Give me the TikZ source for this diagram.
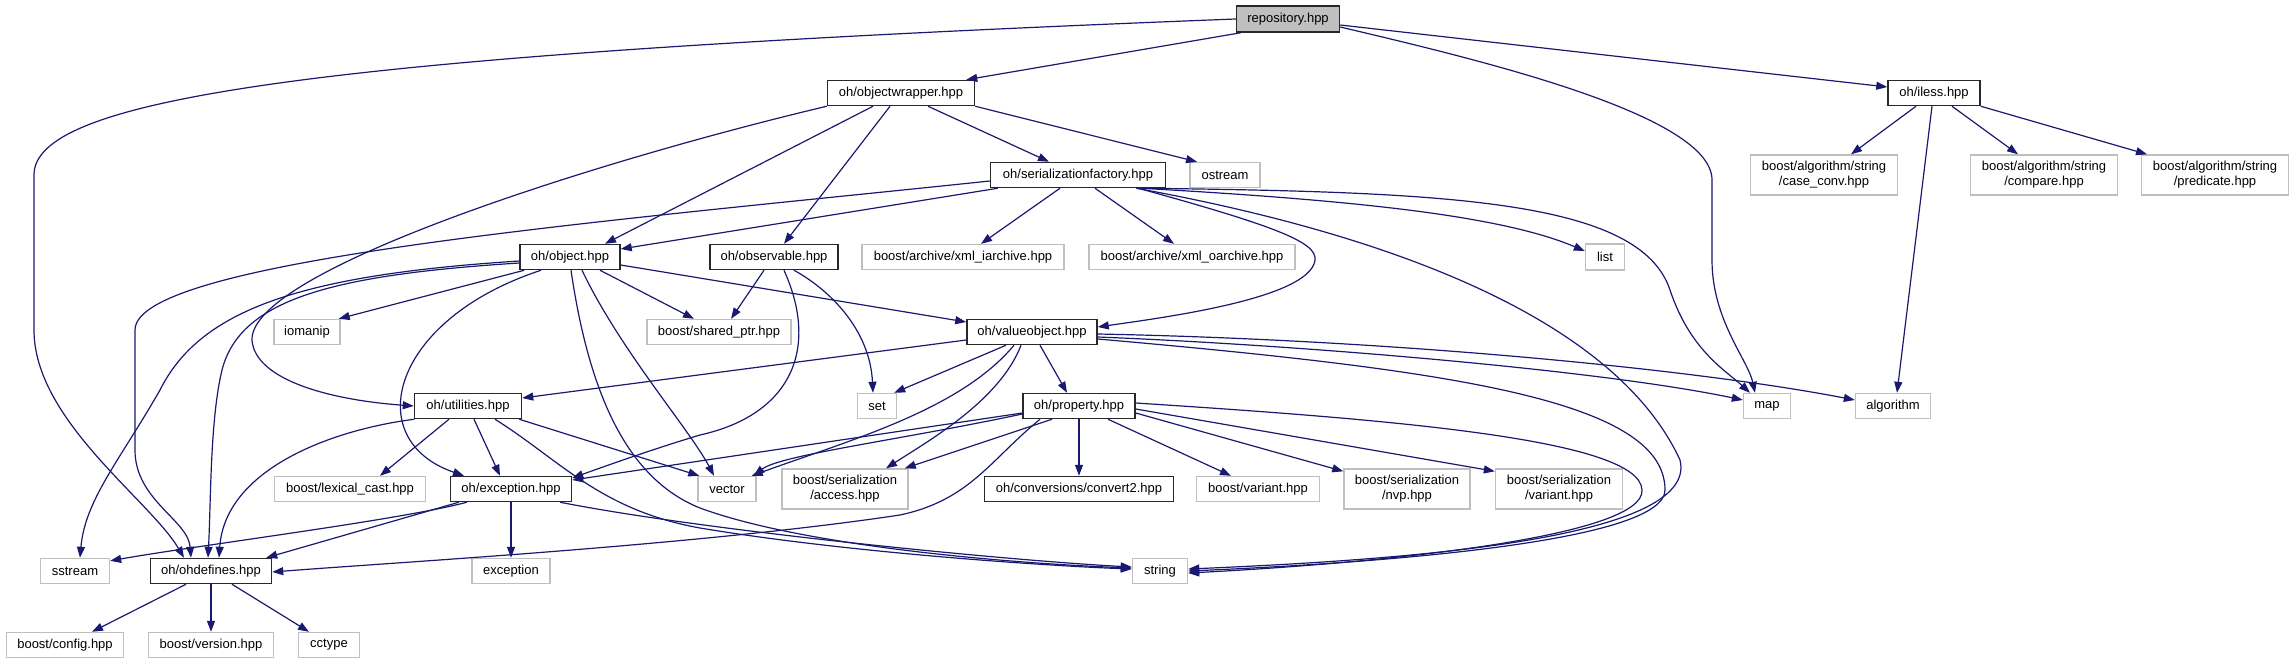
\documentclass[tikz,border=0pt]{standalone}
\usepackage{fontspec}
\setmainfont{Liberation Sans}
\usetikzlibrary{arrows.meta}
\definecolor{edgecol}{RGB}{25,25,112}
\definecolor{extgray}{RGB}{191,191,191}
\definecolor{repfill}{RGB}{191,191,191}
\definecolor{docborder}{RGB}{40,40,40}
\tikzset{
  box/.style={rectangle, inner sep=0pt, font=\fontsize{13}{15}\selectfont, align=center, text=black, fill=white},
  doc/.style={box, draw=docborder, line width=1.5pt},
  ext/.style={box, draw=extgray, line width=1.4pt},
  e/.style={draw=edgecol, line width=1.2pt, -{Triangle[length=11pt,width=8pt]}, fill=none},
}
\begin{document}
\begin{tikzpicture}[x=1pt,y=-1pt]
\useasboundingbox (0,0) rectangle (2294,664);
\node[doc, fill=repfill, minimum width=103pt, minimum height=26pt] (rep) at (1288,19) {repository.hpp};
\node[doc, minimum width=147pt, minimum height=25pt] (ow) at (901,93) {oh/objectwrapper.hpp};
\node[doc, minimum width=92pt, minimum height=25pt] (iless) at (1934,93) {oh/iless.hpp};
\node[doc, minimum width=175pt, minimum height=25pt] (sf) at (1078,175) {oh/serializationfactory.hpp};
\node[ext, minimum width=70pt, minimum height=25pt] (ostream) at (1225,175) {ostream};
\node[ext, minimum width=147pt, minimum height=40pt] (caseconv) at (1824,175) {boost/algorithm/string\\/case\_conv.hpp};
\node[ext, minimum width=147pt, minimum height=40pt] (compare) at (2044,175) {boost/algorithm/string\\/compare.hpp};
\node[ext, minimum width=147pt, minimum height=40pt] (predicate) at (2215,175) {boost/algorithm/string\\/predicate.hpp};
\node[doc, minimum width=100pt, minimum height=25pt] (object) at (570,257) {oh/object.hpp};
\node[doc, minimum width=128pt, minimum height=25pt] (observable) at (774,257) {oh/observable.hpp};
\node[ext, minimum width=202pt, minimum height=25pt] (xmli) at (963,257) {boost/archive/xml\_iarchive.hpp};
\node[ext, minimum width=206pt, minimum height=25pt] (xmlo) at (1192,257) {boost/archive/xml\_oarchive.hpp};
\node[ext, minimum width=39pt, minimum height=26pt] (list) at (1605,257) {list};
\node[ext, minimum width=66pt, minimum height=25pt] (iomanip) at (307,332) {iomanip};
\node[ext, minimum width=144pt, minimum height=25pt] (sharedptr) at (719,332) {boost/shared\_ptr.hpp};
\node[doc, minimum width=130pt, minimum height=25pt] (valueobject) at (1032,332) {oh/valueobject.hpp};
\node[doc, minimum width=107pt, minimum height=25pt] (utilities) at (468,406) {oh/utilities.hpp};
\node[ext, minimum width=39pt, minimum height=25pt] (set) at (877,406) {set};
\node[doc, minimum width=112pt, minimum height=25pt] (property) at (1079,406) {oh/property.hpp};
\node[ext, minimum width=47pt, minimum height=25pt] (map) at (1767,406) {map};
\node[ext, minimum width=75pt, minimum height=25pt] (algorithm) at (1893,406) {algorithm};
\node[ext, minimum width=151pt, minimum height=25pt] (lexical) at (350,489) {boost/lexical\_cast.hpp};
\node[doc, minimum width=121pt, minimum height=25pt] (exh) at (511,489) {oh/exception.hpp};
\node[ext, minimum width=58pt, minimum height=25pt] (vector) at (727,489) {vector};
\node[ext, minimum width=126pt, minimum height=40pt] (access) at (845,489) {boost/serialization\\/access.hpp};
\node[doc, minimum width=189pt, minimum height=25pt] (convert2) at (1079,489) {oh/conversions/convert2.hpp};
\node[ext, minimum width=123pt, minimum height=25pt] (variant) at (1258,489) {boost/variant.hpp};
\node[ext, minimum width=126pt, minimum height=40pt] (nvp) at (1407,489) {boost/serialization\\/nvp.hpp};
\node[ext, minimum width=127pt, minimum height=40pt] (svariant) at (1559,489) {boost/serialization\\/variant.hpp};
\node[ext, minimum width=69pt, minimum height=25pt] (sstream) at (75,571) {sstream};
\node[doc, minimum width=121pt, minimum height=25pt] (ohd) at (211,571) {oh/ohdefines.hpp};
\node[ext, minimum width=78pt, minimum height=25pt] (exc) at (511,571) {exception};
\node[ext, minimum width=55pt, minimum height=25pt] (string) at (1160,571) {string};
\node[ext, minimum width=117pt, minimum height=25pt] (config) at (65,645) {boost/config.hpp};
\node[ext, minimum width=125pt, minimum height=25pt] (version) at (211,645) {boost/version.hpp};
\node[ext, minimum width=61pt, minimum height=25pt] (cctype) at (329,645) {cctype};

% repository
\draw[e] (rep.west) .. controls (300,55) and (34,100) .. (34,175) -- (34,330) .. controls (34,420) and (150,500) .. ([xshift=-27pt]ohd.north);
\draw[e] ([xshift=5pt]rep.south west) -- ([xshift=-9pt]ow.north east);
\draw[e] ([yshift=-8pt]rep.east) .. controls (1480,60) and (1712,115) .. (1712,180) -- (1712,260) .. controls (1712,320) and (1748,360) .. ([xshift=-12pt]map.north);
\draw[e] ([yshift=-6pt]rep.east) -- ([yshift=6pt]iless.west);
% objectwrapper
\draw[e] ([xshift=27pt]ow.south) -- ([xshift=-29pt]sf.north);
\draw[e] (ow.south east) -- ([xshift=-28pt]ostream.north);
\draw[e] ([xshift=-28pt]ow.south) -- ([xshift=35pt]object.north);
\draw[e] ([xshift=-11pt]ow.south) -- ([xshift=10pt]observable.north);
\draw[e] (ow.south west) .. controls (600,160) and (250,270) .. (252,340) .. controls (255,380) and (330,400) .. (utilities.west);
% serializationfactory
\draw[e] ([xshift=8pt]sf.south west) -- ([yshift=8pt]object.east);
\draw[e] ([yshift=-6pt]sf.west) .. controls (600,222) and (135,260) .. (135,330) -- (135,450) .. controls (135,500) and (188,520) .. ([xshift=-20pt]ohd.north);
\draw[e] ([xshift=-18pt]sf.south) -- ([xshift=18pt]xmli.north);
\draw[e] ([xshift=17pt]sf.south) -- ([xshift=-18pt]xmlo.north);
\draw[e] ([xshift=-25pt]sf.south east) .. controls (1350,200) and (1500,215) .. ([yshift=6pt]list.west);
\draw[e] ([xshift=-22pt]sf.south east) .. controls (1450,192) and (1640,200) .. (1670,290) .. controls (1690,350) and (1725,370) .. ([xshift=-17pt]map.north);
\draw[e] ([xshift=-28pt]sf.south east) .. controls (1290,230) and (1322,245) .. (1314,264) .. controls (1300,300) and (1160,318) .. ([yshift=5pt]valueobject.east);
\draw[e] ([xshift=-30pt]sf.south east) .. controls (1420,240) and (1620,330) .. (1680,460) .. controls (1700,540) and (1400,560) .. ([yshift=2pt]string.east);
% object
\draw[e] ([xshift=5pt]object.south west) -- ([xshift=-2pt]iomanip.north east);
\draw[e] ([xshift=30pt]object.south) -- ([xshift=-25pt]sharedptr.north);
\draw[e] ([yshift=-8pt]object.east) -- ([yshift=10pt]valueobject.west);
\draw[e] ([xshift=-29pt]object.south) .. controls (390,320) and (360,440) .. ([xshift=-47pt]exh.north);
\draw[e] ([yshift=-6pt]object.west) .. controls (330,275) and (240,300) .. (222,370) .. controls (210,420) and (211,500) .. ([xshift=-3pt]ohd.north);
\draw[e] ([yshift=-4pt]object.west) .. controls (300,275) and (200,310) .. (160,390) .. controls (120,460) and (85,500) .. ([xshift=5pt]sstream.north);
\draw[e] ([xshift=12pt]object.south) .. controls (620,350) and (690,430) .. ([xshift=-13pt]vector.north);
\draw[e] ([xshift=1pt]object.south) .. controls (590,400) and (630,480) .. (700,508) .. controls (800,545) and (1000,563) .. ([yshift=3pt]string.west);
% observable
\draw[e] ([xshift=-10pt]observable.south) -- ([xshift=12pt]sharedptr.north);
\draw[e] ([xshift=20pt]observable.south) .. controls (830,290) and (870,330) .. ([xshift=-4pt]set.north);
\draw[e] ([xshift=10pt]observable.south) .. controls (820,350) and (790,415) .. (700,435) .. controls (650,450) and (600,468) .. ([yshift=11pt]exh.east);
% valueobject
\draw[e] ([yshift=-8pt]valueobject.west) -- ([yshift=8pt]utilities.east);
\draw[e] ([xshift=-26pt]valueobject.south) -- ([xshift=-3pt]set.north east);
\draw[e] ([xshift=8pt]valueobject.south) -- ([xshift=-12pt]property.north);
\draw[e] ([xshift=-18pt]valueobject.south) .. controls (960,410) and (850,440) .. ([xshift=-5pt]vector.north east);
\draw[e] ([xshift=-11pt]valueobject.south) .. controls (1000,400) and (930,440) .. ([xshift=41pt]access.north);
\draw[e] ([yshift=-5pt]valueobject.east) .. controls (1300,345) and (1600,370) .. ([yshift=6pt]map.west);
\draw[e] ([yshift=-2pt]valueobject.east) .. controls (1400,340) and (1700,370) .. ([yshift=6pt]algorithm.west);
\draw[e] ([yshift=-7pt]valueobject.east) .. controls (1450,370) and (1665,400) .. (1665,490) .. controls (1665,540) and (1400,562) .. ([yshift=0pt]string.east);
% iless
\draw[e] ([xshift=-18pt]iless.south) -- ([xshift=27pt]caseconv.north);
\draw[e] ([xshift=18pt]iless.south) -- ([xshift=-26pt]compare.north);
\draw[e] (iless.south east) -- ([xshift=-68pt]predicate.north);
\draw[e] ([xshift=-2pt]iless.south) -- ([xshift=4pt]algorithm.north);
% utilities
\draw[e] ([xshift=0.5pt]utilities.south west) .. controls (330,430) and (225,470) .. ([xshift=8pt]ohd.north);
\draw[e] ([xshift=-19pt]utilities.south) -- ([xshift=30pt]lexical.north);
\draw[e] ([xshift=6pt]utilities.south) -- ([xshift=-11pt]exh.north);
\draw[e] ([xshift=-3pt]utilities.south east) -- ([xshift=2pt]vector.north west);
\draw[e] ([xshift=27pt]utilities.south) .. controls (560,460) and (600,510) .. (700,528) .. controls (850,553) and (1050,566) .. ([yshift=2pt]string.west);
% property
\draw[e] ([yshift=-7pt]property.west) -- ([yshift=9pt]exh.east);
\draw[e] ([yshift=-8pt]property.west) .. controls (900,440) and (780,455) .. ([xshift=-3pt]vector.north east);
\draw[e] ([xshift=-27pt]property.south) -- ([xshift=-4pt]access.north east);
\draw[e] (property.south) -- (convert2.north);
\draw[e] ([xshift=29pt]property.south) -- ([xshift=-27pt]variant.north);
\draw[e] ([yshift=-7pt]property.east) -- ([yshift=-3pt]nvp.north west);
\draw[e] ([yshift=-3pt]property.east) -- ([yshift=-3pt]svariant.north west);
\draw[e] ([xshift=-39pt]property.south) .. controls (990,460) and (970,500) .. (900,515) .. controls (700,545) and (400,562) .. ([yshift=-1pt]ohd.east);
\draw[e] ([yshift=3pt]property.east) .. controls (1400,420) and (1640,440) .. (1642,490) .. controls (1645,535) and (1400,562) .. ([yshift=-2pt]string.east);
% exception.hpp
\draw[e] ([xshift=17pt]exh.south west) .. controls (400,520) and (200,545) .. ([yshift=-3pt]sstream.north east);
\draw[e] ([xshift=9pt]exh.south west) -- ([xshift=-6pt]ohd.north east);
\draw[e] (exh.south) -- (exc.north);
\draw[e] ([xshift=-12pt]exh.south east) .. controls (700,530) and (1000,560) .. ([yshift=4pt]string.west);
% ohdefines
\draw[e] ([xshift=-25pt]ohd.south) -- ([xshift=27pt]config.north);
\draw[e] (ohd.south) -- (version.north);
\draw[e] ([xshift=21pt]ohd.south) -- ([xshift=-20pt]cctype.north);
\end{tikzpicture}
\end{document}
